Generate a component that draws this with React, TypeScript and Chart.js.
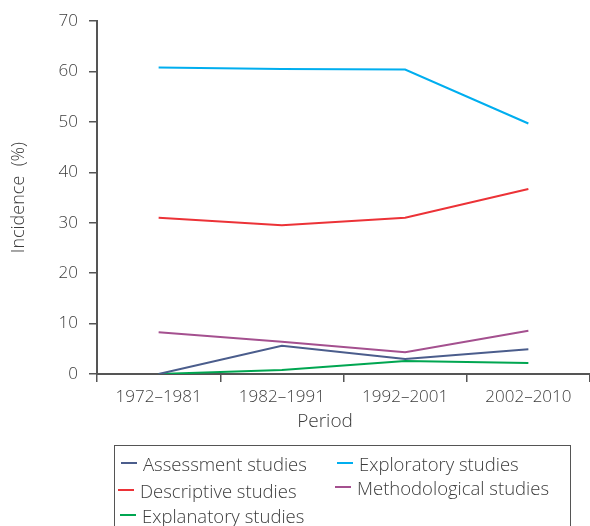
import React, { useEffect, useRef } from "react";
import { Chart, registerables } from "chart.js";

Chart.register(...registerables);

const periods = ["1972–1981", "1982–1991", "1992–2001", "2002–2010"];
const assessment = [0, 5.6, 3.0, 4.9];
const descriptive = [31.0, 29.5, 31.0, 36.7];
const explanatory = [0, 0.8, 2.6, 2.2];
const exploratory = [60.8, 60.5, 60.4, 49.7];
const methodological = [8.3, 6.4, 4.3, 8.6];

const seriesNames = [
  "Assessment studies",
  "Descriptive studies",
  "Explanatory studies",
  "Exploratory studies",
  "Methodological studies",
];
const seriesColors = ["#4b5d8c", "#ec3237", "#00a651", "#00aeef", "#a4508f"];
const seriesData = [assessment, descriptive, explanatory, exploratory, methodological];

const FONT = "'Open Sans', 'DejaVu Sans', sans-serif";
const TEXT = "#3c3c3c";
const AXIS = "#555555";

export default function App() {
  const ref = useRef<HTMLCanvasElement | null>(null);

  useEffect(() => {
    if (!ref.current) return;
    const chart = new Chart(ref.current, {
      type: "line",
      data: {
        labels: periods,
        datasets: seriesNames.map((name, i) => ({
          label: name,
          data: seriesData[i],
          borderColor: seriesColors[i],
          backgroundColor: seriesColors[i],
          borderWidth: 2,
          pointRadius: 0,
          tension: 0,
          fill: false,
        })),
      },
      options: {
        animation: false,
        responsive: false,
        maintainAspectRatio: false,
        layout: { padding: { left: 0, right: 0, top: 20, bottom: 92 } },
        plugins: {
          legend: { display: false },
          tooltip: { enabled: false },
        },
        scales: {
          x: {
            offset: true,
            grid: {
              offset: true,
              drawOnChartArea: false,
              drawTicks: true,
              tickLength: 8,
              color: AXIS,
              tickColor: AXIS,
              lineWidth: 1.5,
            },
            border: { display: true, color: AXIS, width: 2 },
            ticks: {
              padding: 5,
              color: TEXT,
              font: { family: FONT, size: 17, weight: "300" as any },
              maxRotation: 0,
            },
            afterFit: (s: any) => {
              s.height = 60;
            },
          },
          y: {
            min: 0,
            max: 70,
            ticks: {
              stepSize: 10,
              padding: 11,
              color: TEXT,
              font: { family: FONT, size: 17, weight: "300" as any },
            },
            grid: {
              drawOnChartArea: false,
              drawTicks: true,
              tickLength: 8,
              color: AXIS,
              tickColor: AXIS,
              lineWidth: 1.5,
            },
            border: { display: true, color: AXIS, width: 2 },
            title: {
              display: true,
              text: "Incidence  (%)",
              color: TEXT,
              padding: { top: 8, bottom: 0 },
              font: { family: FONT, size: 18, weight: "300" as any },
            },
            afterFit: (s: any) => {
              s.width = 97;
            },
          },
        },
      },
    });
    return () => chart.destroy();
  }, []);

  const legendItem = (i: number, left: number, top: number) => (
    <div
      key={i}
      style={{
        position: "absolute",
        left,
        top,
        display: "flex",
        alignItems: "center",
        height: 24,
        whiteSpace: "nowrap",
      }}
    >
      <span
        style={{
          display: "inline-block",
          width: 16,
          height: 2,
          background: seriesColors[i],
          marginRight: 6,
        }}
      />
      <span>{seriesNames[i]}</span>
    </div>
  );

  return (
    <div
      style={{
        position: "absolute",
        left: 0,
        top: 0,
        width: 590,
        height: 526,
        overflow: "hidden",
        background: "#fff",
        fontFamily: FONT,
        color: TEXT,
      }}
    >
      <canvas ref={ref} width={590} height={526} style={{ display: "block" }} />
      <div
        style={{
          position: "absolute",
          left: 0,
          width: 650,
          top: 407,
          textAlign: "center",
          fontSize: 19,
          fontWeight: 300,
        }}
      >
        Period
      </div>
      <div
        style={{
          position: "absolute",
          left: 114,
          top: 445,
          width: 455,
          height: 100,
          border: "1px solid #555",
          fontSize: 18.5,
          fontWeight: 300,
        }}
      >
        {legendItem(0, 6, 5)}
        {legendItem(1, 3, 32)}
        {legendItem(2, 5, 57)}
        {legendItem(3, 222, 5)}
        {legendItem(4, 220, 29)}
      </div>
    </div>
  );
}
